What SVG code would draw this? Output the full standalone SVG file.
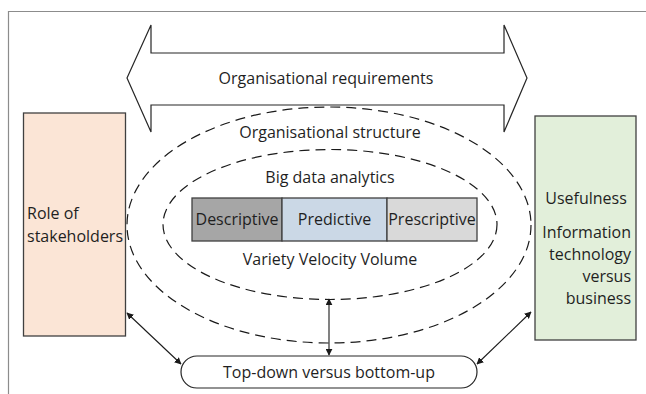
<svg xmlns="http://www.w3.org/2000/svg" width="646" height="394" viewBox="0 0 646 394">
<defs>
<style>
text{font-family:"Open Sans","Liberation Sans",sans-serif;font-size:16px;fill:#1f1f1f}
.c{text-anchor:middle}
.r{text-anchor:end}
.box{stroke:#404040;stroke-width:1.3}
.dash{fill:none;stroke:#1a1a1a;stroke-width:1.2;stroke-dasharray:10 6}
.con{stroke:#1a1a1a;stroke-width:1.1;fill:none;marker-start:url(#ah);marker-end:url(#ah)}
</style>
<marker id="ah" viewBox="0 0 10 10" refX="9" refY="5" markerWidth="7" markerHeight="7" markerUnits="userSpaceOnUse" orient="auto-start-reverse">
<path d="M0,0 L10,5 L0,10 z" fill="#1a1a1a"/>
</marker>
</defs>
<rect width="646" height="394" fill="#fff"/>
<path d="M8.5,394 V11.5 H646" fill="none" stroke="#8c8c8c" stroke-width="1.2"/>

<g id="requirements">
<path d="M127,78 L151,25 V53 H504 V25 L527,78 L504,132 V105 H151 V132 Z" fill="#fff" stroke="#262626" stroke-width="1.2"/>
<text class="c" x="326" y="83.5">Organisational requirements</text>
</g>

<g id="structure">
<ellipse class="dash" cx="329" cy="225" rx="202" ry="118"/>
<text class="c" x="330" y="137.5">Organisational structure</text>
</g>

<g id="analytics">
<ellipse class="dash" cx="330" cy="224.5" rx="167" ry="75"/>
<text class="c" x="330" y="182.5">Big data analytics</text>
<text class="c" x="330" y="264.5">Variety Velocity Volume</text>
</g>

<g id="descriptive">
<rect class="box" x="192" y="198" width="90" height="43" fill="#a6a6a6"/>
<text class="c" x="237" y="224.5">Descriptive</text>
</g>
<g id="predictive">
<rect class="box" x="282" y="198" width="105" height="43" fill="#cbd8e6"/>
<text class="c" x="334.5" y="224.5">Predictive</text>
</g>
<g id="prescriptive">
<rect class="box" x="387" y="198" width="90" height="43" fill="#d9d9d9"/>
<text class="c" x="432" y="224.5">Prescriptive</text>
</g>

<g id="stakeholders">
<rect class="box" x="23.5" y="113" width="102" height="223" fill="#fbe5d6"/>
<text x="27" y="218.5">Role of</text>
<text x="27" y="241.5">stakeholders</text>
</g>

<g id="usefulness">
<rect class="box" x="535" y="116" width="101" height="224" fill="#e2efda"/>
<text class="c" x="586" y="203.5">Usefulness</text>
<text class="r" x="631" y="237.5">Information</text>
<text class="r" x="631" y="259.5">technology</text>
<text class="r" x="631" y="281.5">versus</text>
<text class="r" x="631" y="303.5">business</text>
</g>

<g id="topdown">
<rect x="181" y="356" width="296" height="32" rx="16" fill="#fff" stroke="#262626" stroke-width="1.2"/>
<text class="c" x="329" y="377.5">Top-down versus bottom-up</text>
</g>

<g id="connectors">
<line class="con" x1="329" y1="299" x2="329" y2="355"/>
<line class="con" x1="127" y1="313" x2="181" y2="364"/>
<line class="con" x1="531" y1="312" x2="477" y2="364"/>
</g>
</svg>
